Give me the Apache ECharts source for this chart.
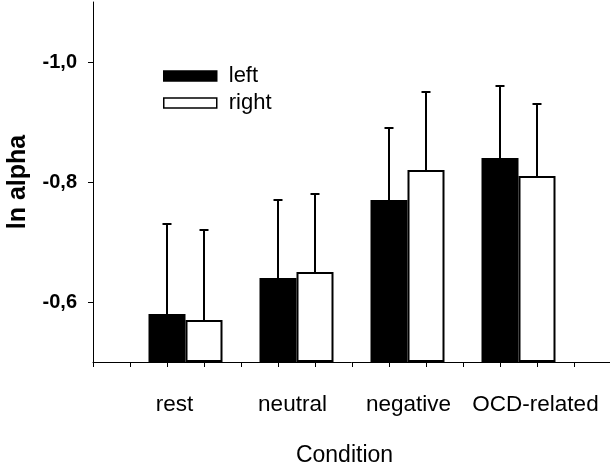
<!DOCTYPE html>
<html>
<head>
<meta charset="utf-8">
<script src="https://cdn.jsdelivr.net/npm/echarts@6/dist/echarts.min.js"></script>
<style>
  html, body { margin: 0; padding: 0; background: #fff; }
  #chart { width: 610px; height: 470px; }
</style>
</head>
<body>
<div id="chart"></div>
<script>
// Mean ln alpha per condition, left and right hemisphere, with SD (drawn toward more negative values)
const categories = ['rest', 'neutral', 'negative', 'OCD-related'];
const leftMeans  = [-0.58, -0.64, -0.77, -0.84];
const rightMeans = [-0.57, -0.65, -0.82, -0.81];
const leftSD     = [0.15, 0.13, 0.12, 0.12];
const rightSD    = [0.15, 0.13, 0.13, 0.12];
const yTickValues = [-1.0, -0.8, -0.6];

const FONT = 'Liberation Sans, Arial, sans-serif';
const BAR_W = 37;
// small horizontal nudges for the category labels
const labelShift = [-11, -4, 1, 17];

function errData(means, sds) {
  return means.map((m, i) => [i, m, +(m - sds[i]).toFixed(3)]);
}

function errRender(offset) {
  return function (params, api) {
    const i = api.value(0);
    const p0 = api.coord([i, api.value(1)]);
    const p1 = api.coord([i, api.value(2)]);
    const x = p0[0] + offset;
    return {
      type: 'group',
      children: [
        { type: 'line', shape: { x1: x, y1: p0[1], x2: x, y2: p1[1] },
          style: { stroke: '#000', lineWidth: 2 } },
        { type: 'line', shape: { x1: x - 4.5, y1: p1[1], x2: x + 4.5, y2: p1[1] },
          style: { stroke: '#000', lineWidth: 2 } }
      ]
    };
  };
}

const rich = {};
labelShift.forEach((s, i) => {
  rich['c' + i] = {
    fontFamily: FONT, fontSize: 22.5, color: '#000',
    padding: s < 0 ? [0, -2 * s, 0, 0] : [0, 0, 0, 2 * s]
  };
});

const chart = echarts.init(document.getElementById('chart'), null, { renderer: 'canvas' });
chart.setOption({
  backgroundColor: '#fff',
  animation: false,
  grid: [
    { left: 130, width: 444, top: 2, height: 360, containLabel: false, outerBoundsMode: 'none' },   // bars
    { left: 93, width: 517, top: 2, height: 360, containLabel: false, outerBoundsMode: 'none' }     // frame axes
  ],
  legend: {
    data: ['left', 'right'],
    orient: 'vertical',
    left: 158, top: 60,
    icon: 'rect',
    itemWidth: 53, itemHeight: 10,
    itemGap: 5,
    itemStyle: { borderWidth: 1.5, borderColor: '#000' },
    textStyle: { fontFamily: FONT, fontSize: 22, color: '#000', lineHeight: 22, padding: [0, 0, 0, 7] }
  },
  xAxis: [
    {
      type: 'category', gridIndex: 0, data: categories,
      axisLine: { show: false }, axisTick: { show: false },
      axisLabel: {
        margin: 31, interval: 0,
        formatter: (v, i) => '{c' + i + '|' + v + '}',
        rich: rich
      }
    },
    {
      type: 'value', gridIndex: 1, min: 0, max: 517 / 37, interval: 1,
      axisLine: { show: true, lineStyle: { color: '#000', width: 1 } },
      axisTick: { show: true, length: 5, lineStyle: { color: '#000' } },
      axisLabel: { show: false },
      splitLine: { show: false },
      name: 'Condition', nameLocation: 'middle', nameGap: 82,
      nameTextStyle: { fontFamily: FONT, fontSize: 23, color: '#000', padding: [0, 14, 0, 0] }
    }
  ],
  yAxis: [
    {
      type: 'value', gridIndex: 0, inverse: true, min: -1.1, max: -0.5,
      startValue: -0.5,
      axisLine: { show: false }, axisTick: { show: false },
      axisLabel: { show: false }, splitLine: { show: false }
    },
    {
      type: 'value', gridIndex: 1, inverse: true, min: -1.1, max: -0.5, interval: 0.1,
      axisLine: { show: true, lineStyle: { color: '#000', width: 1 } },
      axisTick: { show: true, length: 5, customValues: yTickValues, lineStyle: { color: '#000' } },
      axisLabel: {
        customValues: yTickValues, margin: 16,
        fontFamily: FONT, fontSize: 20, fontWeight: 'bold', color: '#000',
        formatter: v => v.toFixed(1).replace('.', ',')
      },
      splitLine: { show: false },
      name: 'ln alpha', nameLocation: 'middle', nameGap: 62,
      nameTextStyle: { fontFamily: FONT, fontSize: 25, fontWeight: 'bold', color: '#000' }
    }
  ],
  series: [
    {
      name: 'left', type: 'bar', xAxisIndex: 0, yAxisIndex: 0,
      data: leftMeans, barWidth: BAR_W, barGap: '0%', clip: true,
      itemStyle: { color: '#000', borderColor: '#000', borderWidth: 2 }
    },
    {
      name: 'right', type: 'bar', xAxisIndex: 0, yAxisIndex: 0,
      data: rightMeans, barWidth: BAR_W, barGap: '0%', clip: true,
      itemStyle: { color: '#fff', borderColor: '#000', borderWidth: 2 }
    },
    {
      type: 'custom', xAxisIndex: 0, yAxisIndex: 0, z: 5,
      renderItem: errRender(-BAR_W / 2), data: errData(leftMeans, leftSD)
    },
    {
      type: 'custom', xAxisIndex: 0, yAxisIndex: 0, z: 5,
      renderItem: errRender(BAR_W / 2), data: errData(rightMeans, rightSD)
    }
  ]
});
</script>
</body>
</html>
